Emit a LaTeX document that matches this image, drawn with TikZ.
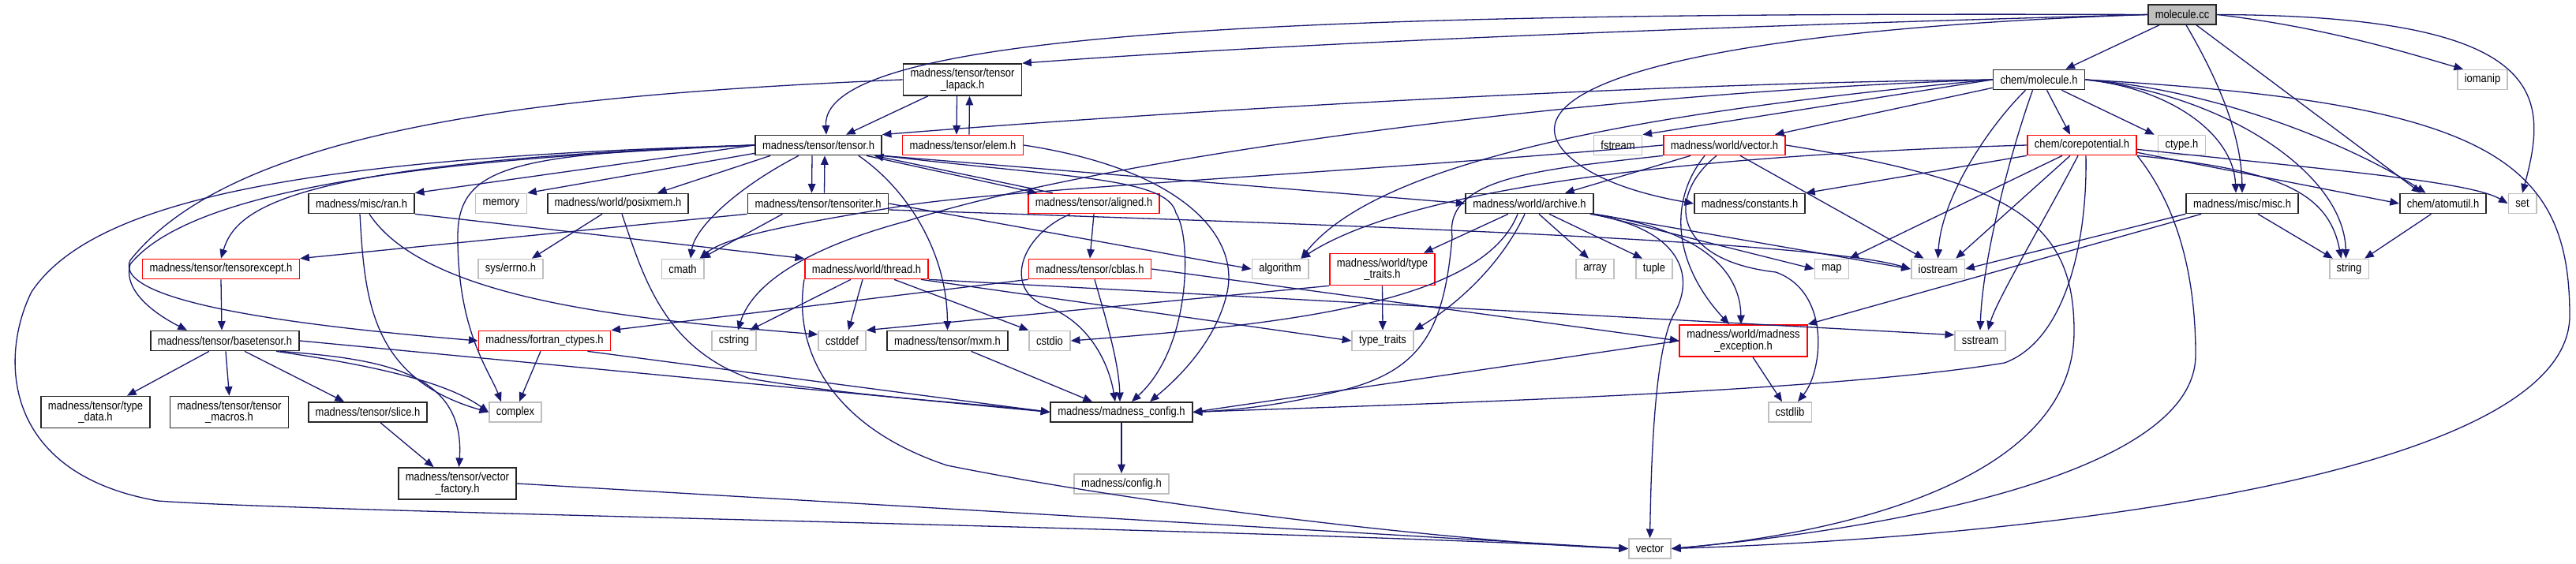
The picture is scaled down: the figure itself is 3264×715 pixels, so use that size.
\documentclass[tikz,border=0pt]{standalone}
\usepackage{fontspec}
\newfontfamily\dotfont{Liberation Sans}[FakeStretch=0.87]
\usetikzlibrary{arrows.meta,calc}
\definecolor{edgeblue}{RGB}{25,25,112}
\definecolor{sysgrey}{RGB}{191,191,191}
\tikzset{
hdr/.style={draw=black!85, fill=white, line width=0.85pt, inner xsep=4.5pt, inner ysep=0pt, minimum height=12.5pt, font={\fontsize{7.45pt}{7.35pt}\dotfont}, align=center},
hdrtrunc/.style={hdr, draw=red},
hdrsys/.style={hdr, draw=sysgrey},
hdrroot/.style={hdr, fill=sysgrey},
tall/.style={minimum height=20pt},
inc/.style={draw=edgeblue, line width=0.65pt, -{Triangle[length=5.8pt,width=4.8pt]}}
}
\begin{document}
\begin{tikzpicture}[x=0.5pt,y=0.5pt,yscale=-1]
\path[fill=white,use as bounding box] (0,0) rectangle (3264,715);

% Text Node: root
\node[hdrroot] (mc) at (2765,18.5) {molecule.cc};
% Text Node: row 2
\node[hdrsys] (iomanip) at (3145.5,101) {iomanip};
\node[hdr] (mh) at (2583.5,101) {chem/molecule.h};
\node[hdr,tall] (tl) at (1219.5,101) {madness/tensor/tensor\\\_lapack.h};
% Text Node: row 3
\node[hdr] (tn) at (1037,184) {madness/tensor/tensor.h};
\node[hdrtrunc] (elem) at (1220,184) {madness/tensor/elem.h};
\node[hdrsys] (fstream) at (2050,184) {fstream};
\node[hdrtrunc] (wv) at (2185,184) {madness/world/vector.h};
\node[hdrtrunc] (cp) at (2638,184) {chem/corepotential.h};
\node[hdrsys] (ctype) at (2764.5,184) {ctype.h};
% Text Node: row 4
\node[hdr] (ran) at (458,258) {madness/misc/ran.h};
\node[hdrsys] (memory) at (635,258) {memory};
\node[hdr] (posix) at (783,258) {madness/world/posixmem.h};
\node[hdr] (ti) at (1036.5,258) {madness/tensor/tensoriter.h};
\node[hdrtrunc] (al) at (1386,258) {madness/tensor/aligned.h};
\node[hdr] (ar) at (1938,258) {madness/world/archive.h};
\node[hdr] (cst) at (2217,258) {madness/constants.h};
\node[hdr] (misc) at (2841,258) {madness/misc/misc.h};
\node[hdr] (atom) at (3095.5,258) {chem/atomutil.h};
\node[hdrsys] (set) at (3196,258) {set};
% Text Node: row 5
\node[hdrtrunc] (te) at (280,341) {madness/tensor/tensorexcept.h};
\node[hdrsys] (errno) at (647,341) {sys/errno.h};
\node[hdrsys] (cmath) at (865,341) {cmath};
\node[hdrtrunc] (thread) at (1098,341) {madness/world/thread.h};
\node[hdrtrunc] (cblas) at (1381,341) {madness/tensor/cblas.h};
\node[hdrsys] (algorithm) at (1622,341) {algorithm};
\node[hdrtrunc,tall] (wtt) at (1751.5,341.5) {madness/world/type\\\_traits.h};
\node[hdrsys] (array) at (2021,341) {array};
\node[hdrsys] (tuple) at (2096,341) {tuple};
\node[hdrsys] (map) at (2321,341) {map};
\node[hdrsys] (iostream) at (2455.5,341) {iostream};
\node[hdrsys] (string) at (2976.5,341) {string};
% Text Node: row 6
\node[hdr] (bt) at (285,432) {madness/tensor/basetensor.h};
\node[hdrtrunc] (fct) at (690,432) {madness/fortran\_ctypes.h};
\node[hdrsys] (cstring) at (930,432) {cstring};
\node[hdrsys] (cstddef) at (1067,432) {cstddef};
\node[hdr] (mxm) at (1200.5,432) {madness/tensor/mxm.h};
\node[hdrsys] (cstdio) at (1330,432) {cstdio};
\node[hdrsys] (ttraits) at (1752,432) {type\_traits};
\node[hdrtrunc,tall] (mexc) at (2209,432) {madness/world/madness\\\_exception.h};
\node[hdrsys] (sstream) at (2509,432) {sstream};
% Text Node: row 7
\node[hdr,tall] (tdata) at (121,522.5) {madness/tensor/type\\\_data.h};
\node[hdr,tall] (tmacros) at (290.5,522.5) {madness/tensor/tensor\\\_macros.h};
\node[hdr] (slice) at (466,522.5) {madness/tensor/slice.h};
\node[hdrsys] (complex) at (653,522.5) {complex};
\node[hdr] (mcfg) at (1421,522.5) {madness/madness\_config.h};
\node[hdrsys] (cstdlib) at (2268,522.5) {cstdlib};
% Text Node: rows 8, 9
\node[hdr,tall] (vfac) at (579.5,613) {madness/tensor/vector\\\_factory.h};
\node[hdrsys] (config) at (1421,613.5) {madness/config.h};
\node[hdrsys] (vec) at (2090.5,695.5) {vector};

%Straight Lines: molecule.cc
\draw[inc] (mc.west) .. controls (2300,30) and (1700,50) .. (tl.north east);
\draw[inc] (mc.west) .. controls (1700,15) and (1040,35) .. ($(tn.north)+(10,0)$);
\draw[inc] ($(mc.south west)+(15,0)$) -- ($(mh.north east)+(-25,0)$);
\draw[inc] (mc.west) .. controls (2100,40) and (1900,120) .. (1990,200) .. controls (2030,235) and (2100,250) .. (cst.west);
\draw[inc] ($(mc.south)+(5,0)$) .. controls (2810,100) and (2840,170) .. (misc.north);
\draw[inc] ($(mc.south)+(18,0)$) -- ($(atom.north)+(-28,0)$);
\draw[inc] (mc.east) .. controls (2950,35) and (3060,70) .. ($(iomanip.north west)+(8,0)$);
\draw[inc] (mc.east) .. controls (3230,20) and (3230,120) .. (set.north);

%Straight Lines: chem/molecule.h
\draw[inc] (mh.west) .. controls (2100,105) and (1500,140) .. (tn.north east);
\draw[inc] (mh.west) .. controls (2000,118) and (1400,200) .. (1150,280) .. controls (1000,320) and (950,370) .. ($(cstring.north)+(5,0)$);
\draw[inc] (mh.west) -- (fstream.north east);
\draw[inc] (mh.west) .. controls (2100,140) and (1750,200) .. ($(algorithm.north east)+(-10,0)$);
\draw[inc] ($(mh.south west)+(0,-3)$) -- ($(wv.north east)+(-14,0)$);
\draw[inc] ($(mh.south)+(10,0)$) -- ($(cp.north)+(-15,0)$);
\draw[inc] ($(mh.south east)+(-30,0)$) -- ($(ctype.north west)+(-4,0)$);
\draw[inc] (mh.east) .. controls (2750,112) and (2830,170) .. ($(misc.north)+(-8,0)$);
\draw[inc] (mh.east) .. controls (2820,115) and (2990,190) .. ($(atom.north)+(-22,0)$);
\draw[inc] (mh.east) .. controls (2820,120) and (2970,220) .. ($(string.north)+(-4,0)$);
\draw[inc] ($(mh.south)+(-17,0)$) .. controls (2520,160) and (2460,250) .. (iostream.north);
\draw[inc] ($(mh.south)+(-8,0)$) .. controls (2545,200) and (2512,330) .. (sstream.north);
\draw[inc] (mh.east) .. controls (3150,130) and (3256,200) .. (3256,400) .. controls (3256,600) and (2600,680) .. (vec.east);

%Straight Lines: tensor_lapack.h, elem.h
\draw[inc] ($(tl.south west)+(32,0)$) -- ($(tn.north)+(35,0)$);
\draw[inc] ($(tl.south)+(-7,0)$) -- ($(elem.north)+(-8,0)$);
\draw[inc] ($(elem.north)+(8,0)$) -- ($(tl.south)+(9,0)$);
\draw[inc] (tl.west) .. controls (700,120) and (300,160) .. (165,330) .. controls (140,385) and (400,415) .. (fct.west);
\draw[inc] (elem.east) .. controls (1500,215) and (1570,300) .. (1555,370) .. controls (1540,440) and (1480,490) .. ($(mcfg.north)+(36,0)$);

%Straight Lines: tensor.h
\draw[inc] (tn.west) -- (ran.north east);
\draw[inc] ($(tn.south west)+(0,-3)$) -- (memory.north east);
\draw[inc] ($(tn.south west)+(20,0)$) -- ($(posix.north)+(50,0)$);
\draw[inc] ($(tn.south)+(-8,0)$) -- ($(ti.north)+(-8,0)$);
\draw[inc] ($(ti.north)+(8,0)$) -- ($(tn.south)+(8,0)$);
\draw[inc] ($(tn.south east)+(-20,0)$) -- ($(al.north west)+(12,0)$);
\draw[inc] ($(al.north west)+(32,0)$) -- ($(tn.south east)+(-10,0)$);
\draw[inc] (tn.south east) -- (ar.west);
\draw[inc] (tn.west) .. controls (380,205) and (300,260) .. (te.north);
\draw[inc] (tn.west) .. controls (600,200) and (250,230) .. (165,335) .. controls (155,370) and (200,400) .. ($(bt.north)+(-48,0)$);
\draw[inc] ($(tn.south)+(-25,0)$) .. controls (930,240) and (880,290) .. ($(cmath.north)+(10,0)$);
\draw[inc] ($(tn.south east)+(-30,0)$) .. controls (1150,240) and (1200,320) .. (mxm.north);
\draw[inc] (tn.west) .. controls (650,195) and (580,210) .. (580,300) .. controls (580,420) and (620,470) .. ($(complex.north)+(-18,0)$);
\draw[inc] (tn.south east) .. controls (1350,225) and (1480,225) .. (1490,270) .. controls (1510,300) and (1510,440) .. ($(mcfg.north)+(13,0)$);
\draw[inc] (tn.west) .. controls (400,200) and (120,250) .. (40,370) .. controls (0,450) and (0,600) .. (200,635) .. controls (400,650) and (1600,670) .. (vec.west);

%Straight Lines: tensoriter.h
\draw[inc] (ti.south west) -- (te.north east);
\draw[inc] ($(ti.south)+(-45,0)$) -- ($(cmath.north east)+(-4,0)$);
\draw[inc] (ti.east) -- (algorithm.west);
\draw[inc] ($(ti.east)+(0,8)$) .. controls (1700,285) and (2300,305) .. (iostream.west);

%Straight Lines: aligned.h, cblas.h
\draw[inc] (al.south) -- (cblas.north);
\draw[inc] ($(al.south)+(-30,0)$) .. controls (1290,300) and (1270,370) .. (1330,390) .. controls (1380,410) and (1405,460) .. ($(mcfg.north)+(-8,0)$);
\draw[inc] (cblas.south west) -- (fct.north east);
\draw[inc] ($(cblas.south)+(6,0)$) .. controls (1400,400) and (1418,460) .. ($(mcfg.north)+(-2,0)$);
\draw[inc] (cblas.east) -- (mexc.west);

%Straight Lines: ran.h, posixmem.h
\draw[inc] (ran.south east) -- (thread.north west);
\draw[inc] ($(ran.south)+(-2,0)$) .. controls (462,380) and (470,480) .. (complex.west);
\draw[inc] ($(ran.south)+(10,0)$) .. controls (540,380) and (800,405) .. ($(cstddef.west)+(0,-8)$);
\draw[inc] ($(posix.south)+(-20,0)$) -- ($(errno.north east)+(-15,0)$);
\draw[inc] ($(posix.south)+(5,0)$) .. controls (815,350) and (840,440) .. (950,480) .. controls (1100,505) and (1250,512) .. (mcfg.west);

%Straight Lines: tensorexcept.h, basetensor.h, slice.h
\draw[inc] (te.south) -- ($(bt.north)+(-4,0)$);
\draw[inc] ($(bt.south)+(-20,0)$) -- ($(tdata.north)+(40,0)$);
\draw[inc] ($(bt.south)+(1,0)$) -- (tmacros.north);
\draw[inc] ($(bt.south)+(25,0)$) -- ($(slice.north)+(-30,0)$);
\draw[inc] (bt.east) -- (mcfg.west);
\draw[inc] ($(bt.south east)+(-30,0)$) .. controls (450,460) and (560,480) .. (complex.west);
\draw[inc] ($(bt.south east)+(-25,0)$) .. controls (480,455) and (590,470) .. ($(vfac.north)+(2,0)$);
\draw[inc] ($(slice.south)+(16,0)$) -- ($(vfac.north)+(-30,0)$);
\draw[inc] (vfac.east) -- (vec.west);
\draw[inc] ($(fct.south)+(-5,0)$) -- ($(complex.north)+(5,0)$);
\draw[inc] ($(fct.south east)+(-30,0)$) -- (mcfg.west);

%Straight Lines: thread.h
\draw[inc] ($(thread.south)+(-20,0)$) -- ($(cstring.north)+(20,0)$);
\draw[inc] ($(thread.south)+(-5,0)$) -- ($(cstddef.north)+(8,0)$);
\draw[inc] ($(thread.south)+(35,0)$) -- (cstdio.north west);
\draw[inc] ($(thread.south east)+(-10,0)$) -- (ttraits.west);
\draw[inc] (thread.south east) -- ($(sstream.north west)+(0,6)$);
\draw[inc] (thread.south west) .. controls (1005,440) and (1050,540) .. (1200,590) .. controls (1500,650) and (1900,690) .. (vec.west);
\draw[inc] ($(mxm.south)+(30,0)$) -- ($(mcfg.north)+(-37,0)$);

%Straight Lines: type_traits.h, archive.h
\draw[inc] (wtt.south) -- (ttraits.north);
\draw[inc] (wtt.south west) -- (cstddef.north east);
\draw[inc] ($(ar.south)+(-27,0)$) -- ($(wtt.north east)+(-15,0)$);
\draw[inc] ($(ar.south)+(12,0)$) -- ($(array.north)+(-8,0)$);
\draw[inc] ($(ar.south)+(25,0)$) -- ($(tuple.north)+(-15,0)$);
\draw[inc] ($(ar.south)+(-6,0)$) .. controls (1900,340) and (1840,390) .. (ttraits.north east);
\draw[inc] ($(ar.south)+(-15,0)$) .. controls (1880,380) and (1650,410) .. (cstdio.east);
\draw[inc] (ar.south east) -- (map.west);
\draw[inc] (ar.south east) -- (iostream.west);
\draw[inc] (ar.south east) .. controls (2150,290) and (2205,340) .. ($(mexc.north)+(-3,0)$);
\draw[inc] ($(ar.south east)+(-5,0)$) .. controls (2130,290) and (2150,350) .. (2120,400) .. controls (2095,450) and (2092,600) .. (vec.north);

%Straight Lines: vector.h
\draw[inc] ($(wv.south west)+(35,0)$) -- ($(ar.north)+(45,0)$);
\draw[inc] ($(wv.south)+(20,0)$) -- ($(iostream.north)+(-18,0)$);
\draw[inc] ($(wv.south)+(-25,0)$) .. controls (2110,260) and (2125,340) .. ($(mexc.north)+(-18,0)$);
\draw[inc] ($(wv.south)+(-10,0)$) .. controls (2110,250) and (2120,330) .. (2250,345) .. controls (2320,370) and (2310,470) .. ($(cstdlib.north)+(10,0)$);
\draw[inc] (wv.south west) .. controls (1950,215) and (1830,225) .. (1840,300) .. controls (1830,420) and (1800,470) .. (1700,495) .. controls (1620,515) and (1560,520) .. (mcfg.east);
\draw[inc] (wv.west) .. controls (1700,220) and (1300,238) .. (1150,260) .. controls (1000,285) and (920,300) .. ($(cmath.north east)+(-6,0)$);
\draw[inc] (wv.east) .. controls (2550,230) and (2628,280) .. (2628,420) .. controls (2628,620) and (2300,680) .. (vec.east);

%Straight Lines: corepotential.h
\draw[inc] (cp.south west) -- (cst.north east);
\draw[inc] (cp.west) .. controls (2200,195) and (1800,230) .. ($(algorithm.north east)+(-10,0)$);
\draw[inc] ($(cp.south)+(-25,0)$) -- (map.north east);
\draw[inc] ($(cp.south)+(-15,0)$) -- ($(iostream.north east)+(-12,0)$);
\draw[inc] ($(cp.south)+(-5,0)$) .. controls (2590,280) and (2530,380) .. ($(sstream.north)+(10,0)$);
\draw[inc] ($(cp.south)+(5,0)$) .. controls (2645,300) and (2620,430) .. (2540,460) .. controls (2300,500) and (1700,515) .. (mcfg.east);
\draw[inc] (cp.south east) .. controls (2750,250) and (2782,330) .. (2782,450) .. controls (2782,600) and (2400,670) .. (vec.east);
\draw[inc] (cp.south east) .. controls (2880,215) and (2950,240) .. ($(string.north)+(-10,0)$);
\draw[inc] ($(cp.south east)+(0,-4)$) -- (atom.west);
\draw[inc] ($(cp.south east)+(0,-8)$) .. controls (2950,215) and (3130,230) .. (set.west);

%Straight Lines: misc.h, atomutil.h, madness_exception.h, madness_config.h
\draw[inc] (misc.south west) -- (iostream.east);
\draw[inc] ($(misc.south west)+(20,0)$) -- (mexc.north east);
\draw[inc] ($(misc.south)+(20,0)$) -- ($(string.north west)+(5,0)$);
\draw[inc] ($(atom.south)+(-15,0)$) -- ($(string.north east)+(-6,0)$);
\draw[inc] ($(mexc.south)+(12,0)$) -- ($(cstdlib.north)+(-10,0)$);
\draw[inc] (mexc.west) -- (mcfg.east);
\draw[inc] (mcfg.south) -- (config.north);

\end{tikzpicture}
\end{document}
